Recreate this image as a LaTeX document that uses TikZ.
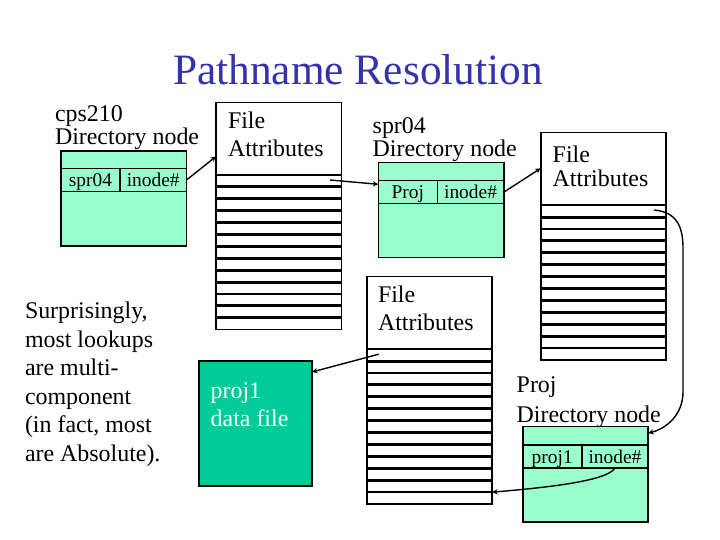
\documentclass[tikz,border=0pt]{standalone}
\usepackage{fontspec}
\setmainfont{Liberation Serif}
\usetikzlibrary{calc}
\definecolor{titleblue}{RGB}{51,51,170}
\definecolor{dirgreen}{RGB}{153,255,204}
\definecolor{datagreen}{RGB}{0,204,153}

\begin{document}
\begin{tikzpicture}[x=1bp, y=-1bp, >=stealth, line width=1.6pt,
    every node/.style={inner sep=0pt, outer sep=0pt},
    txt/.style={anchor=base west, align=left, font=\fontsize{24}{#1}\selectfont},
    txt/.default=28,
    attrbox/.style={draw, minimum width=125.5bp, minimum height=227bp, anchor=north west},
    dirbox/.style={draw, fill=dirgreen, minimum width=125.5bp, minimum height=95bp, anchor=north west},
    namecell/.style={draw, minimum width=59bp, minimum height=23bp, anchor=north west,
      text height=15bp, text depth=2bp, font=\fontsize{19.5}{20}\selectfont},
    inocell/.style={namecell, minimum width=66.5bp},
    stripe/.style={line width=3pt},
    link/.style={->, line width=1.4pt}]
  % 1. 背景与标题
  \fill[white] (0,0) rectangle (720,540);
  \useasboundingbox (0,0) rectangle (720,540);
  \node[anchor=base, text=titleblue, font=\fontsize{43.5}{44}\selectfont] (title) at (358,85) {Pathname Resolution};

  % 2. 文件属性块 (i-node)
  \node[attrbox] (attrA) at (216,102.5) {};
  \node[attrbox] (attrB) at (366.7,276.7) {};
  \node[attrbox] (attrC) at (540.7,132.7) {};
  \foreach \bx in {attrA,attrB,attrC} {
    \draw ($(\bx.north west)+(0,72.5)$) -- ($(\bx.north east)+(0,72.5)$);
    \foreach \k in {1,...,12}
      \draw[stripe] ($(\bx.north west)+(0,72.5+11.9*\k)$) -- ($(\bx.north east)+(0,72.5+11.9*\k)$);
  }
  % 多行文字: 基线取最后一行
  \node[txt=29] (attrAtxt) at (228,157) {File\\Attributes};
  \node[txt=28.5] (attrBtxt) at (378,330.5) {File\\Attributes};
  \node[txt=24] (attrCtxt) at (552.7,186.5) {File\\Attributes};

  % 3. 目录节点
  \node[dirbox] (cpsdir) at (61,151) {};
  \node[namecell] (cpsname) at (61,168.5) {spr04};
  \node[inocell] (cpsino) at (cpsname.north east) {inode\#};
  \node[txt=24] (cpslbl) at (55,145) {cps210\\Directory node};

  \node[dirbox] (sprdir) at (378.3,162.7) {};
  \node[namecell] (sprname) at (378.3,180.7) {Proj};
  \node[inocell] (sprino) at (sprname.north east) {inode\#};
  \node[txt=23.5] (sprlbl) at (372.7,157) {spr04\\Directory node};

  \node[dirbox] (prjdir) at (522.7,426.7) {};
  \node[namecell] (prjname) at (522.7,445) {proj1};
  \node[inocell] (prjino) at (prjname.north east) {inode\#};
  \node[txt=29.5] (prjlbl) at (516.7,422) {Proj\\Directory node};

  % 4. 数据文件与说明文字
  \node[draw, fill=datagreen, minimum width=113bp, minimum height=125bp, anchor=north west] (datafile) at (199,361) {};
  \node[txt=28, text=white] (datatxt) at (210.7,426.3) {proj1\\data file};
  \node[txt=28.7] (remark) at (25,461.5) {Surprisingly,\\most lookups\\are multi-\\component\\(in fact, most\\are Absolute).};

  % 5. 指针箭头
  \coordinate (hA) at ($(attrA.north west)+(114,77.5)$);
  \coordinate (hB) at ($(attrB.north west)+(12,77.5)$);
  \coordinate (hC) at ($(attrC.north west)+(113.5,77.3)$);
  \draw[link] (cpsino.east) -- ($(attrA.north west)+(0,54)$);
  \draw[link] (hA) -- (sprname.165);
  \draw[link] (sprino.east) -- ($(attrC.north west)+(0,35.6)$);
  \draw[link] (hC) .. controls +(22,2) and +(0,-22) .. (683,248) -- (683,392)
    .. controls +(0,22) and +(19,-5) .. ($(prjdir.north east)+(0,6.5)$);
  \draw[link] (prjino.south) .. controls +(-8,14) and +(45,-4) .. ($(attrB.south east)+(0,-11.5)$);
  \draw[link] (hB) -- ($(datafile.north east)+(0,11)$);
\end{tikzpicture}
\end{document}
